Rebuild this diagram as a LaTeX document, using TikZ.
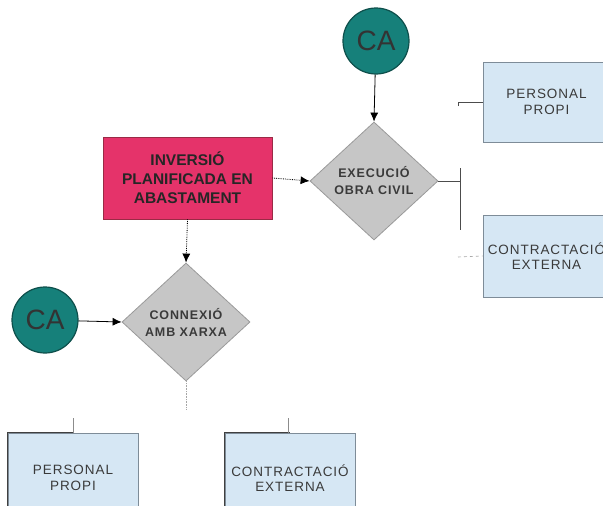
\documentclass[tikz,border=0pt]{standalone}
\usepackage{fontspec}
\setmainfont{Liberation Sans}
\usetikzlibrary{shapes.geometric,arrows.meta}
\definecolor{tealfill}{HTML}{16807A}
\definecolor{tealline}{HTML}{0E4F4B}
\definecolor{pinkfill}{HTML}{E5336A}
\definecolor{pinkline}{HTML}{9A2A45}
\definecolor{grayfill}{HTML}{C6C6C6}
\definecolor{grayline}{HTML}{9A9A9A}
\definecolor{bluefill}{HTML}{D6E7F4}
\definecolor{blueline}{HTML}{7E8C98}
\definecolor{txt}{HTML}{3A3A3A}
\newfontfamily\spacedfont[LetterSpace=7]{Liberation Sans}
\tikzset{
  castart/.style={circle, draw=tealline, line width=1.2pt, fill=tealfill, minimum size=66pt, inner sep=0pt,
    font=\fontsize{28}{30}\selectfont, text=black!80},
  decision/.style={diamond, draw=grayline, line width=0.8pt, fill=grayfill, minimum width=128pt, minimum height=118pt,
    inner sep=0pt, align=center, font=\spacedfont\bfseries\fontsize{12.5}{17}\selectfont, text=txt},
  resource/.style={rectangle, draw=blueline, line width=0.8pt, fill=bluefill, align=center,
    font=\spacedfont\fontsize{13.5}{15.5}\selectfont, text=txt},
  investment/.style={rectangle, draw=pinkline, line width=0.8pt, fill=pinkfill, align=center,
    font=\bfseries\fontsize{15.5}{19}\selectfont, text=black!85, minimum width=169pt, minimum height=82pt},
  flow/.style={line width=0.8pt, -{Latex[length=9pt,width=8pt]}},
  link/.style={line width=0.8pt, draw=black!70},
  faint/.style={line width=0.6pt, draw=black!35, dashed}
}
\begin{document}
\begin{tikzpicture}[x=1pt,y=-1pt]
\useasboundingbox (0,0) rectangle (603,506);
\fill[white] (0,0) rectangle (603,506);
\clip (0,0) rectangle (603,506);

% start markers
\node[castart] (ca1) at (376,41) {CA};
\node[castart] (ca2) at (45,320) {CA};

% decisions
\node[decision] (exe) at (374,181) {EXECUCIÓ\\OBRA CIVIL};
\node[decision] (con) at (186,322) {CONNEXIÓ\\AMB XARXA};

% investment box
\node[investment] (inv) at (187.5,178) {INVERSIÓ\\PLANIFICADA EN\\ABASTAMENT};

% resource boxes
\node[resource, minimum width=127pt, minimum height=80pt] (pp1) at (546.5,102) {PERSONAL\\PROPI};
\node[resource, minimum width=127pt, minimum height=82pt] (ce1) at (546.5,256) {CONTRACTACIÓ\\EXTERNA};
\node[resource, minimum width=130pt, minimum height=90pt] (pp2) at (73,478) {PERSONAL\\PROPI};
\node[resource, minimum width=130pt, minimum height=90pt] (ce2) at (290,478) {CONTRACTACIÓ\\EXTERNA};
\draw[line width=1.2pt, draw=black!75] (pp2.south west) |- (pp2.north);
\draw[line width=1.2pt, draw=black!75] (ce2.south west) |- (ce2.north);

% junction points
\coordinate (j1) at (460,181);
\coordinate (jt) at (460,168);
\coordinate (jb) at (460,230);
\coordinate (h1) at (458,106);
\coordinate (d1) at (458,257);
\coordinate (c1) at (186,410);
\coordinate (b1) at (73,418);
\coordinate (b2) at (288,418);

% arrows
\draw[flow] (ca1) -- (exe.north);
\draw[flow] (ca2) -- (con.west);
\draw[flow, densely dotted] (inv.east) -- (exe.west);
\draw[flow, densely dotted] (inv.south) -- (con.north);

% branches towards resources
\draw[link] (exe.east) -- (j1);
\draw[link] (jt) -- (jb);
\draw[link] (h1) |- (pp1.west);
\draw[faint] (d1) -- (ce1.west);
\draw[faint, densely dotted] (con.south) -- (c1);
\draw[line width=0.6pt, draw=black!45] (b1) -- (pp2.north -| b1);
\draw[line width=0.6pt, draw=black!45] (b2) -- (ce2.north -| b2);
\end{tikzpicture}
\end{document}
